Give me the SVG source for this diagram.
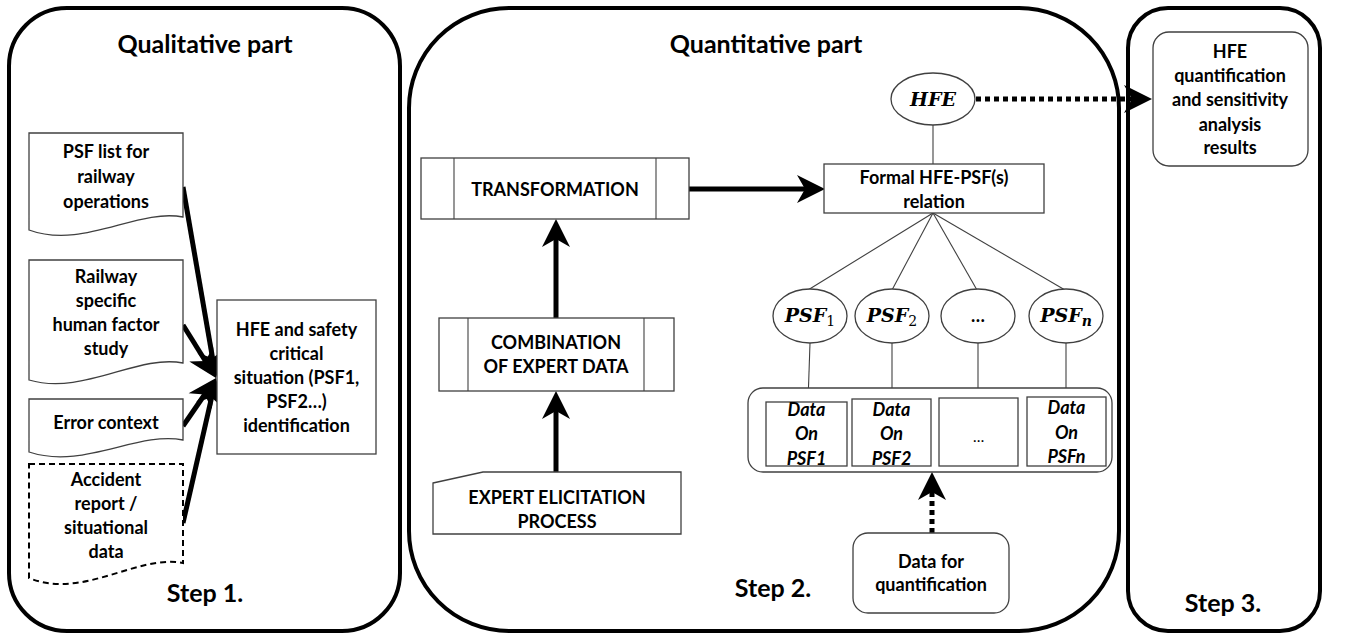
<svg xmlns="http://www.w3.org/2000/svg" width="1353" height="634" viewBox="0 0 1353 634">
<defs>
<style>
.panel{fill:none;stroke:#000;stroke-width:4}
.box{fill:#fff;stroke:#404040;stroke-width:1.3}
.thin{fill:none;stroke:#404040;stroke-width:1.1}
.t{font-family:Lato,"Liberation Sans",sans-serif;font-weight:bold;font-size:18px;fill:#000;text-anchor:middle}
.ti{font-family:Lato,"Liberation Sans",sans-serif;font-weight:bold;font-style:italic;font-size:18px;fill:#000;text-anchor:middle}
.title{font-family:Lato,"Liberation Sans",sans-serif;font-weight:bold;font-size:25px;fill:#000;text-anchor:middle}
.step{font-family:Lato,"Liberation Sans",sans-serif;font-weight:bold;font-size:25px;fill:#000;text-anchor:middle}
.m{font-family:"DejaVu Serif",serif;font-weight:bold;font-style:italic;font-size:19px;fill:#000;text-anchor:middle}
.sub{font-family:"DejaVu Serif",serif;font-weight:normal;font-style:normal;font-size:14px}
.arr{fill:none;stroke:#000;stroke-width:5}
.dot{fill:none;stroke:#000;stroke-width:5;stroke-dasharray:5 4}
</style>
<marker id="ah" markerUnits="userSpaceOnUse" markerWidth="28" markerHeight="28" viewBox="0 0 28 28" refX="8" refY="14" orient="auto" overflow="visible">
<path d="M0,0 L28,14 L0,28 L8,14 Z" fill="#000"/>
</marker>
</defs>
<rect width="1353" height="634" fill="#fff"/>

<g id="panel-qualitative">
<rect class="panel" x="9" y="8" width="391" height="623" rx="58" ry="58"/>
<text class="title" x="205" y="53">Qualitative part</text>
<text class="step" x="205" y="602">Step 1.</text>
</g>
<g id="panel-quantitative">
<rect class="panel" x="409" y="8" width="710" height="623" rx="100" ry="100"/>
<text class="title" x="766" y="53">Quantitative part</text>
<text class="step" x="773" y="597">Step 2.</text>
</g>
<g id="panel-step3">
<rect class="panel" x="1128" y="8" width="192" height="623" rx="40" ry="40"/>
<text class="step" x="1223" y="612">Step 3.</text>
</g>

<g id="connectors">
<line class="arr" x1="183" y1="187" x2="212.6" y2="358.3" marker-end="url(#ah)"/>
<line class="arr" x1="183" y1="325" x2="205.4" y2="361" marker-end="url(#ah)"/>
<line class="arr" x1="183" y1="426" x2="204.7" y2="394.5" marker-end="url(#ah)"/>
<line class="arr" x1="183" y1="523" x2="211.6" y2="397.5" marker-end="url(#ah)"/>
<line class="arr" x1="689" y1="189" x2="805" y2="189" marker-end="url(#ah)"/>
<line class="arr" x1="556" y1="318" x2="556" y2="239" marker-end="url(#ah)"/>
<line class="arr" x1="556" y1="472" x2="556" y2="411" marker-end="url(#ah)"/>
<line class="dot" x1="976" y1="99" x2="1132" y2="99" marker-end="url(#ah)"/>
<line class="dot" x1="932" y1="533" x2="932" y2="492" marker-end="url(#ah)"/>
<line class="thin" x1="933" y1="125" x2="933" y2="164"/>
<line class="thin" x1="933" y1="213" x2="808" y2="290"/>
<line class="thin" x1="933" y1="213" x2="892" y2="290"/>
<line class="thin" x1="933" y1="213" x2="977" y2="290"/>
<line class="thin" x1="933" y1="213" x2="1065" y2="290"/>
<line class="thin" x1="810" y1="343" x2="808" y2="402"/>
<line class="thin" x1="892" y1="343" x2="892" y2="399"/>
<line class="thin" x1="978" y1="343" x2="978" y2="398"/>
<line class="thin" x1="1066" y1="343" x2="1066" y2="397"/>
</g>

<g id="psf-list">
<path class="box" d="M29,133 H183 V217 C137,208 83,250 29,230 Z"/>
<text class="t" x="106" y="158">PSF list for</text>
<text class="t" x="106" y="183">railway</text>
<text class="t" x="106" y="208">operations</text>
</g>
<g id="railway-study">
<path class="box" d="M29,260 H183 V363 C137,354 83,396 29,380 Z"/>
<text class="t" x="106" y="283">Railway</text>
<text class="t" x="106" y="307">specific</text>
<text class="t" x="106" y="331">human factor</text>
<text class="t" x="106" y="355">study</text>
</g>
<g id="error-context">
<path class="box" d="M29,399 H183 V440 C137,431 83,470 29,452 Z"/>
<text class="t" x="106" y="429">Error context</text>
</g>
<g id="accident-report">
<path class="box" style="stroke:#000;stroke-width:2;stroke-dasharray:6 4" d="M29,464 H183 V563 C137,554 83,600 29,578 Z"/>
<text class="t" x="106" y="486">Accident</text>
<text class="t" x="106" y="510">report /</text>
<text class="t" x="106" y="534">situational</text>
<text class="t" x="106" y="558">data</text>
</g>
<g id="hfe-identification">
<rect class="box" x="217" y="300" width="159" height="154"/>
<text class="t" x="296.5" y="336">HFE and safety</text>
<text class="t" x="296.5" y="360">critical</text>
<text class="t" x="296.5" y="384">situation (PSF1,</text>
<text class="t" x="296.5" y="408">PSF2…)</text>
<text class="t" x="296.5" y="432">identification</text>
</g>

<g id="transformation">
<rect class="box" x="421" y="158" width="268" height="61"/>
<line class="thin" x1="454" y1="158" x2="454" y2="219"/>
<line class="thin" x1="656" y1="158" x2="656" y2="219"/>
<text class="t" x="555" y="196">TRANSFORMATION</text>
</g>
<g id="combination">
<rect class="box" x="439" y="318" width="235" height="73"/>
<line class="thin" x1="468" y1="318" x2="468" y2="391"/>
<line class="thin" x1="644" y1="318" x2="644" y2="391"/>
<text class="t" x="556" y="349">COMBINATION</text>
<text class="t" x="556" y="373">OF EXPERT DATA</text>
</g>
<g id="expert-elicitation">
<path class="box" d="M433,483 L483,472 H681 V534 H433 Z"/>
<text class="t" x="557" y="504">EXPERT ELICITATION</text>
<text class="t" x="557" y="528">PROCESS</text>
</g>

<g id="hfe">
<ellipse class="box" cx="933" cy="99" rx="42" ry="26"/>
<text class="m" x="933" y="106">HFE</text>
</g>
<g id="formal-relation">
<rect class="box" x="824" y="164" width="220" height="49"/>
<text class="t" x="934" y="184">Formal HFE-PSF(s)</text>
<text class="t" x="934" y="208">relation</text>
</g>
<g id="psf1">
<ellipse class="box" cx="810" cy="316" rx="37" ry="27"/>
<text class="m" x="810" y="322">PSF<tspan class="sub" dy="4">1</tspan></text>
</g>
<g id="psf2">
<ellipse class="box" cx="892" cy="316" rx="37" ry="27"/>
<text class="m" x="892" y="322">PSF<tspan class="sub" dy="4">2</tspan></text>
</g>
<g id="psf-dots">
<ellipse class="box" cx="978" cy="316" rx="37" ry="27"/>
<text class="t" x="978" y="322">…</text>
</g>
<g id="psfn">
<ellipse class="box" cx="1066" cy="316" rx="37" ry="27"/>
<text class="m" x="1066" y="322">PSF<tspan class="sub" style="font-style:italic;font-weight:bold" dy="4">n</tspan></text>
</g>
<g id="data-container">
<rect class="box" x="748" y="388" width="364" height="84" rx="15" ry="15"/>
</g>
<g id="data-psf1">
<rect class="box" x="766" y="402" width="81" height="64"/>
<text class="ti" x="806.5" y="416">Data</text>
<text class="ti" x="806.5" y="440">On</text>
<text class="ti" x="806.5" y="465">PSF1</text>
</g>
<g id="data-psf2">
<rect class="box" x="852" y="399" width="79" height="67"/>
<text class="ti" x="891.5" y="416">Data</text>
<text class="ti" x="891.5" y="440">On</text>
<text class="ti" x="891.5" y="465">PSF2</text>
</g>
<g id="data-dots">
<rect class="box" x="939" y="398" width="79" height="68"/>
<text class="t" x="978.5" y="442" style="font-weight:normal;font-size:15px">…</text>
</g>
<g id="data-psfn">
<rect class="box" x="1027" y="397" width="79" height="69"/>
<text class="ti" x="1066.5" y="414">Data</text>
<text class="ti" x="1066.5" y="439">On</text>
<text class="ti" x="1066.5" y="463">PSFn</text>
</g>
<g id="data-quantification">
<rect class="box" x="853" y="533" width="156" height="80" rx="15" ry="15"/>
<text class="t" x="931" y="568">Data for</text>
<text class="t" x="931" y="591">quantification</text>
</g>
<g id="results">
<rect class="box" x="1153" y="32" width="155" height="134" rx="16" ry="16"/>
<text class="t" x="1230" y="58">HFE</text>
<text class="t" x="1230" y="82">quantification</text>
<text class="t" x="1230" y="106">and sensitivity</text>
<text class="t" x="1230" y="131">analysis</text>
<text class="t" x="1230" y="154">results</text>
</g>
</svg>
